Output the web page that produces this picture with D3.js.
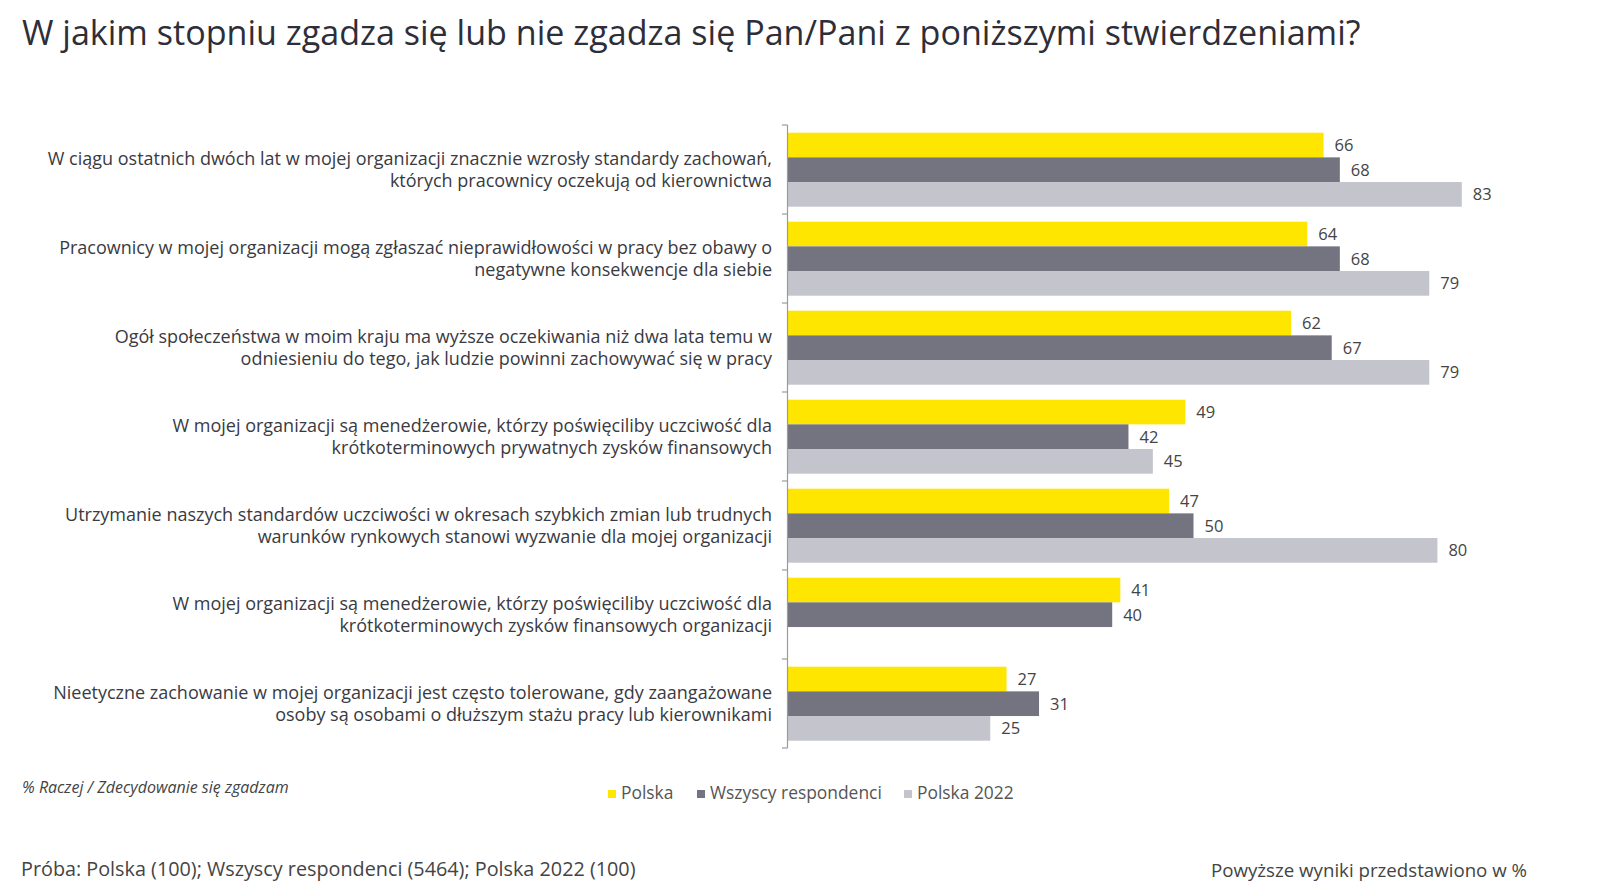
<!DOCTYPE html>
<html>
<head>
<meta charset="utf-8">
<script src="https://cdn.jsdelivr.net/npm/d3@7"></script>
<style>
  html, body { margin: 0; padding: 0; background: #fff; }
  svg { display: block; }
  text { font-family: "Open Sans", "Noto Sans", sans-serif; }
</style>
</head>
<body>
<svg id="chart" width="1600" height="893"></svg>
<script>
// ---- Data ----
const title = "W jakim stopniu zgadza się lub nie zgadza się Pan/Pani z poniższymi stwierdzeniami?";
const categories = [
  ["W ciągu ostatnich dwóch lat w mojej organizacji znacznie wzrosły standardy zachowań,", "których pracownicy oczekują od kierownictwa"],
  ["Pracownicy w mojej organizacji mogą zgłaszać nieprawidłowości w pracy bez obawy o", "negatywne konsekwencje dla siebie"],
  ["Ogół społeczeństwa w moim kraju ma wyższe oczekiwania niż dwa lata temu w", "odniesieniu do tego, jak ludzie powinni zachowywać się w pracy"],
  ["W mojej organizacji są menedżerowie, którzy poświęciliby uczciwość dla", "krótkoterminowych prywatnych zysków finansowych"],
  ["Utrzymanie naszych standardów uczciwości w okresach szybkich zmian lub trudnych", "warunków rynkowych stanowi wyzwanie dla mojej organizacji"],
  ["W mojej organizacji są menedżerowie, którzy poświęciliby uczciwość dla", "krótkoterminowych zysków finansowych organizacji"],
  ["Nieetyczne zachowanie w mojej organizacji jest często tolerowane, gdy zaangażowane", "osoby są osobami o dłuższym stażu pracy lub kierownikami"]
];
const seriesNames = ["Polska", "Wszyscy respondenci", "Polska 2022"];
const polska = [66, 64, 62, 49, 47, 41, 27];
const wszyscy = [68, 68, 67, 42, 50, 40, 31];
const polska2022 = [83, 79, 79, 45, 80, null, 25];
const seriesColors = ["#FFE600", "#747480", "#C4C4CD"];
const noteText = "% Raczej / Zdecydowanie się zgadzam";
const sampleText = "Próba: Polska (100); Wszyscy respondenci (5464); Polska 2022 (100)";
const unitText = "Powyższe wyniki przedstawiono w %";

// ---- Build ----
const seriesValues = [polska, wszyscy, polska2022];
const catIdx = categories.map((c, i) => i);
const rows = [];
catIdx.forEach(ci => {
  seriesNames.forEach((s, si) => {
    const v = seriesValues[si][ci];
    if (v !== null && v !== undefined) rows.push({ ci, si, v });
  });
});

const svg = d3.select("#chart");

const x = d3.scaleLinear().domain([0, 100]).range([787, 1600]);
const y = d3.scaleBand().domain(catIdx).range([125, 748]).padding(0);
const yInner = d3.scaleBand().domain(d3.range(seriesNames.length)).range([7.7, 81.7]).padding(0);
const color = d3.scaleOrdinal().domain(d3.range(seriesNames.length)).range(seriesColors);

// Title
svg.append("text")
  .attr("x", 22).attr("y", 45)
  .attr("font-size", 34.1)
  .attr("fill", "#2e2e38")
  .text(title);

// Bars
svg.append("g").selectAll("rect")
  .data(rows).join("rect")
  .attr("x", x(0))
  .attr("y", d => y(d.ci) + yInner(d.si))
  .attr("width", d => x(d.v) - x(0))
  .attr("height", yInner.bandwidth())
  .attr("fill", d => color(d.si));

// Value labels
svg.append("g").selectAll("text")
  .data(rows).join("text")
  .attr("x", d => x(d.v) + 11)
  .attr("y", d => y(d.ci) + yInner(d.si) + yInner.bandwidth() / 2)
  .attr("dy", "0.36em")
  .attr("font-size", 16.5)
  .attr("fill", "#444")
  .text(d => d.v);

// Axis line and ticks at band boundaries
const axisG = svg.append("g");
const [y0, y1] = y.range();
axisG.append("line")
  .attr("x1", x(0) + 0.5).attr("x2", x(0) + 0.5)
  .attr("y1", y0).attr("y2", y1)
  .attr("stroke", "#9a9aa2").attr("stroke-width", 1.2);
const boundaries = catIdx.map(c => y(c)).concat([y1]);
axisG.selectAll("line.tick")
  .data(boundaries).join("line")
  .attr("class", "tick")
  .attr("x1", x(0) - 5).attr("x2", x(0) + 0.5)
  .attr("y1", d => d).attr("y2", d => d)
  .attr("stroke", "#9a9aa2").attr("stroke-width", 1.2);

// Category labels
const lab = svg.append("g").selectAll("text")
  .data(categories).join("text")
  .attr("text-anchor", "end")
  .attr("font-size", 18)
  .attr("fill", "#3a3a42");
lab.each(function(lines, i) {
  const t = d3.select(this);
  const cy = y(i) + y.bandwidth() / 2;
  const lh = 22;
  lines.forEach((ln, k) => {
    t.append("tspan")
      .attr("x", 772)
      .attr("y", cy + (k - (lines.length - 1) / 2) * lh)
      .attr("dy", "0.36em")
      .text(ln);
  });
});

// Legend
const legendX = [608, 697, 904];
const lg = svg.append("g").selectAll("g")
  .data(seriesNames).join("g")
  .attr("transform", (d, i) => `translate(${legendX[i]},0)`);
lg.append("rect")
  .attr("x", 0).attr("y", 790).attr("width", 8).attr("height", 8)
  .attr("fill", (d, i) => color(i));
lg.append("text")
  .attr("x", 13).attr("y", 799)
  .attr("font-size", 17.4)
  .attr("fill", "#555")
  .text(d => d);

// Note
svg.append("text")
  .attr("x", 22).attr("y", 793)
  .attr("font-size", 16)
  .attr("font-style", "italic")
  .attr("fill", "#444")
  .text(noteText);

// Footer
svg.append("text")
  .attr("x", 21).attr("y", 876)
  .attr("font-size", 19.8)
  .attr("fill", "#444")
  .text(sampleText);
svg.append("text")
  .attr("x", 1527).attr("y", 877)
  .attr("text-anchor", "end")
  .attr("font-size", 18.7)
  .attr("fill", "#444")
  .text(unitText);
</script>
</body>
</html>
